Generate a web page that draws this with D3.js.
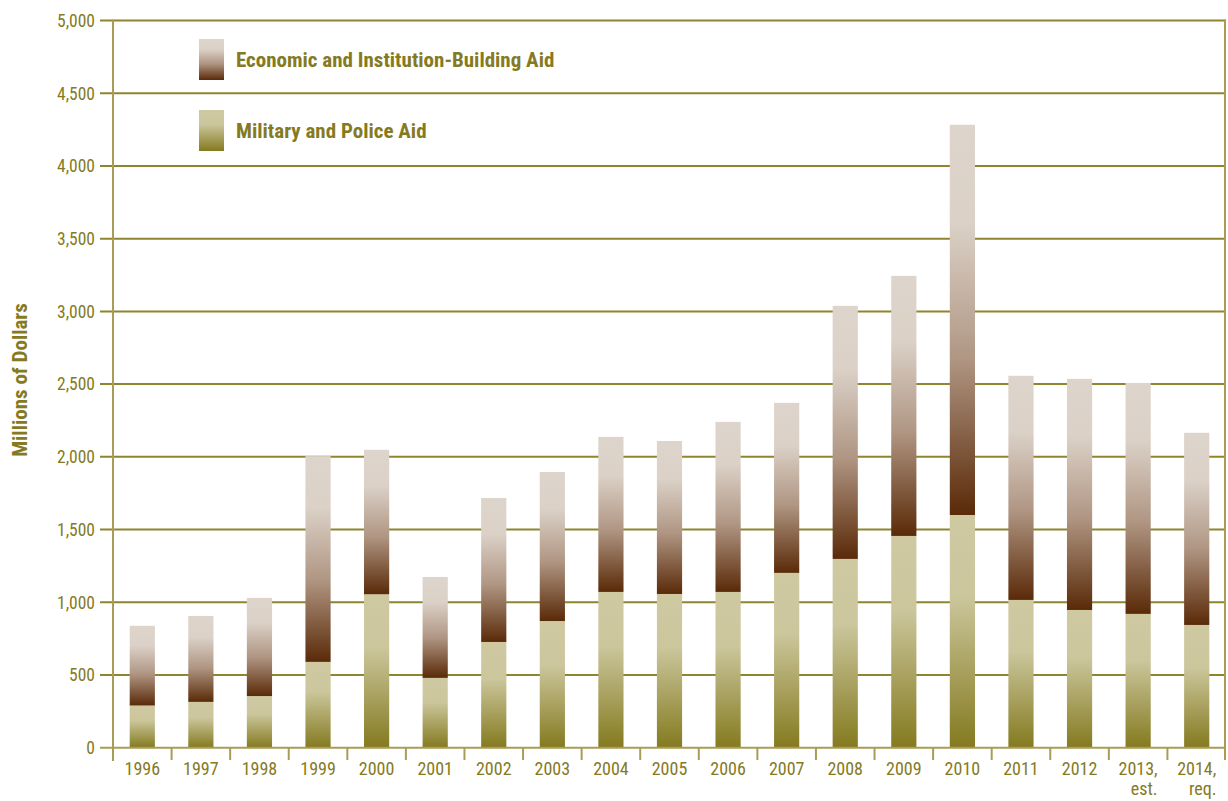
<!DOCTYPE html>
<html><head><meta charset="utf-8">
<script src="https://cdn.jsdelivr.net/npm/d3@7"></script>
<style>
body{margin:0;background:#fff;}
text{font-family:"Liberation Sans Narrow","Arial Narrow","Roboto Condensed","Liberation Sans",sans-serif;fill:#857a22;}
</style></head>
<body><svg id="c" width="1228" height="801"></svg>
<script>
const categories = ["1996","1997","1998","1999","2000","2001","2002","2003","2004","2005","2006","2007","2008","2009","2010","2011","2012","2013,|est.","2014,|req."];
const military = [290,315,355,590,1055,480,727,871,1071,1057,1071,1202,1298,1456,1600,1016,947,920,844];
const totals = [838,906,1030,2005,2048,1174,1717,1896,2137,2109,2240,2371,3038,3244,4283,2557,2536,2508,2165];
const economic = totals.map((t,i)=>t-military[i]);
const yTicks = [0,500,1000,1500,2000,2500,3000,3500,4000,4500,5000];
const seriesNames = ["Economic and Institution-Building Aid","Military and Police Aid"];

const svg = d3.select("#c");
const pL=113, pR=1226, pT=20.5, pB=747.7;
const x = d3.scaleBand().domain(categories).range([pL,pR]).paddingInner(0.57).paddingOuter(0.285);
const xb = d3.scaleBand().domain(categories).range([pL,pR]);
const y = d3.scaleLinear().domain([0,5000]).range([pB,pT]);

const defs = svg.append("defs");
const g1 = defs.append("linearGradient").attr("id","econ").attr("x1",0).attr("y1",0).attr("x2",0).attr("y2",1);
g1.append("stop").attr("offset","0%").attr("stop-color","#ddd4cb");
g1.append("stop").attr("offset","25%").attr("stop-color","#dbd1c7");
g1.append("stop").attr("offset","60%").attr("stop-color","#b09683");
g1.append("stop").attr("offset","100%").attr("stop-color","#5a2a08");
const g2 = defs.append("linearGradient").attr("id","mil").attr("x1",0).attr("y1",0).attr("x2",0).attr("y2",1);
g2.append("stop").attr("offset","0%").attr("stop-color","#cec9a1");
g2.append("stop").attr("offset","35%").attr("stop-color","#cbc69c");
g2.append("stop").attr("offset","100%").attr("stop-color","#847a1f");

// gridlines
svg.append("g").selectAll("line").data(yTicks.filter(d=>d>0)).join("line")
  .attr("x1",100).attr("x2",pR).attr("y1",d=>y(d)).attr("y2",d=>y(d))
  .attr("stroke","#8f852f").attr("stroke-width",2);

// y axis labels
svg.append("g").selectAll("text").data(yTicks).join("text")
  .attr("x",95).attr("y",d=>y(d)).attr("dy","0.36em").attr("text-anchor","end")
  .style("font-size","17.5px").text(d=>d3.format(",")(d));

// bars
const bars = svg.append("g");
bars.selectAll("rect.m").data(categories).join("rect").attr("class","m")
  .attr("x",d=>x(d)).attr("width",x.bandwidth())
  .attr("y",(d,i)=>y(military[i])).attr("height",(d,i)=>y(0)-y(military[i]))
  .attr("fill","url(#mil)");
bars.selectAll("rect.e").data(categories).join("rect").attr("class","e")
  .attr("x",d=>x(d)).attr("width",x.bandwidth())
  .attr("y",(d,i)=>y(totals[i])).attr("height",(d,i)=>y(military[i])-y(totals[i]))
  .attr("fill","url(#econ)");

// baseline (0)
svg.append("line").attr("x1",100).attr("x2",pR).attr("y1",y(0)).attr("y2",y(0))
  .attr("stroke","#a99d55").attr("stroke-width",2);
// y axis line
svg.append("line").attr("x1",pL).attr("x2",pL).attr("y1",pT-1).attr("y2",761)
  .attr("stroke","#a99d55").attr("stroke-width",2);
// right border
svg.append("line").attr("x1",pR-1).attr("x2",pR-1).attr("y1",pT-1).attr("y2",y(0))
  .attr("stroke","#a99d55").attr("stroke-width",2);
// x ticks at band boundaries
svg.append("g").selectAll("line").data(categories.slice(1)).join("line")
  .attr("x1",d=>xb(d)).attr("x2",d=>xb(d)).attr("y1",y(0)).attr("y2",760)
  .attr("stroke","#a99d55").attr("stroke-width",2);
svg.append("line").attr("x1",pR-1).attr("x2",pR-1).attr("y1",y(0)).attr("y2",760)
  .attr("stroke","#a99d55").attr("stroke-width",2);

// x labels (first and second lines as separate texts)
const xg = svg.append("g");
categories.forEach(d=>{
  const parts=d.split("|");
  const cx = xb(d)+xb.bandwidth()/2;
  xg.append("text").attr("x",cx).attr("y",775).attr("text-anchor","middle")
    .style("font-size","18px").text(parts[0]);
  if(parts[1]) xg.append("text").attr("x",cx+6).attr("y",795).attr("text-anchor","middle")
    .style("font-size","18px").text(parts[1]);
});

// y title
svg.append("text").attr("transform","translate(27,380) rotate(-90)").attr("text-anchor","middle")
  .style("font-size","21px").style("font-weight","bold").text("Millions of Dollars");

// legend
const leg = svg.append("g");
const legFills=["url(#econ)","url(#mil)"];
seriesNames.forEach((n,i)=>{
  leg.append("rect").attr("x",199).attr("y",39+i*71).attr("width",25).attr("height",41).attr("fill",legFills[i]);
  leg.append("text").attr("x",236).attr("y",66.5+i*71).style("font-size","21px").style("font-weight","bold").text(n);
});
</script></body></html>
